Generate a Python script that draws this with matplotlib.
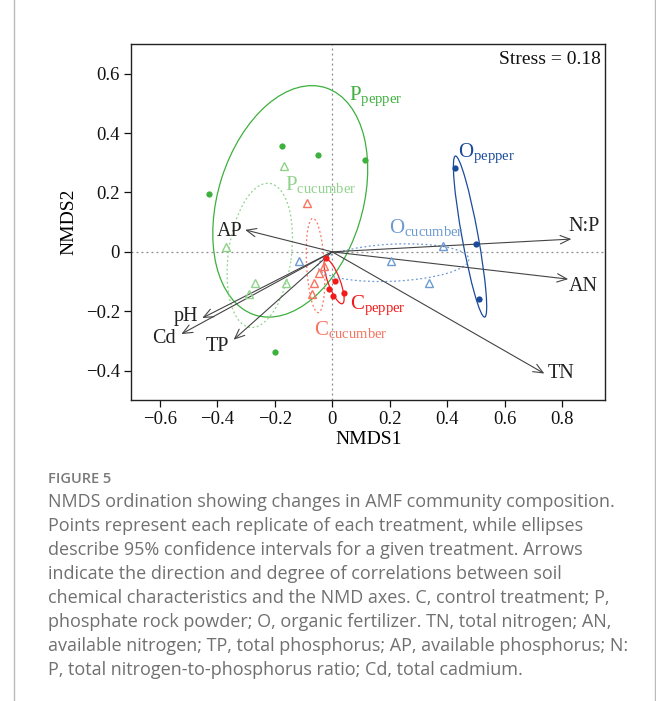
import numpy as np
import matplotlib
matplotlib.use("Agg")
from matplotlib import pyplot as plt
from matplotlib.patches import Ellipse

plt.rcParams['font.family'] = ['Liberation Serif', 'DejaVu Serif']
plt.rcParams['mathtext.fontset'] = 'custom'
plt.rcParams['mathtext.rm'] = 'Liberation Serif'
plt.rcParams['mathtext.it'] = 'Liberation Serif:italic'

# Sample scores
p_pepper_x = [-0.173, -0.051, -0.427, 0.113, -0.200]
p_pepper_y = [0.356, 0.325, 0.194, 0.308, -0.337]
p_cucumber_x = [-0.168, -0.371, -0.268, -0.288, -0.160]
p_cucumber_y = [0.288, 0.015, -0.104, -0.141, -0.104]
c_pepper_x = [-0.020, 0.011, -0.012, 0.004, 0.042]
c_pepper_y = [-0.021, -0.099, -0.124, -0.150, -0.137]
c_cucumber_x = [-0.086, -0.030, -0.046, -0.065, -0.072]
c_cucumber_y = [0.164, -0.048, -0.072, -0.105, -0.141]
o_pepper_x = [0.427, 0.500, 0.509]
o_pepper_y = [0.281, 0.027, -0.159]
o_cucumber_x = [-0.115, 0.385, 0.204, 0.335]
o_cucumber_y = [-0.032, 0.021, -0.032, -0.104]

# 95% ellipses: centre x, centre y, semi-major, semi-minor, angle (deg)
ell_p_pepper = (-0.146, 0.170, 0.402, 0.251, 71.8)
ell_p_cucumber = (-0.252, -0.012, 0.245, 0.1095, 81.8)
ell_c_pepper = (0.0065, -0.100, 0.080, 0.021, -68.8)
ell_c_cucumber = (-0.058, -0.046, 0.159, 0.031, -86.6)
ell_o_pepper = (0.4795, 0.0515, 0.276, 0.028, -79.35)
ell_o_cucumber = (0.2125, -0.0365, 0.263, 0.0625, 2.6)

# envfit vectors
env_names = ['N:P', 'AN', 'TN', 'AP', 'pH', 'Cd', 'TP']
env_x = [0.832, 0.821, 0.738, -0.303, -0.452, -0.525, -0.343]
env_y = [0.043, -0.092, -0.410, 0.074, -0.223, -0.277, -0.296]
env_label_x = [0.875, 0.874, 0.797, -0.357, -0.508, -0.587, -0.400]
env_label_y = [0.087, -0.117, -0.410, 0.068, -0.217, -0.292, -0.318]

x_ticks = [-0.6, -0.4, -0.2, 0, 0.2, 0.4, 0.6, 0.8]
x_tick_labels = ['\u22120.6', '\u22120.4', '\u22120.2', '0', '0.2', '0.4', '0.6', '0.8']
y_ticks = [-0.4, -0.2, 0, 0.2, 0.4, 0.6]
y_tick_labels = ['\u22120.4', '\u22120.2', '0', '0.2', '0.4', '0.6']

caption_lines = [
    "NMDS ordination showing changes in AMF community composition.",
    "Points represent each replicate of each treatment, while ellipses",
    "describe 95% confidence intervals for a given treatment. Arrows",
    "indicate the direction and degree of correlations between soil",
    "chemical characteristics and the NMD axes. C, control treatment; P,",
    "phosphate rock powder; O, organic fertilizer. TN, total nitrogen; AN,",
    "available nitrogen; TP, total phosphorus; AP, available phosphorus; N:",
    "P, total nitrogen-to-phosphorus ratio; Cd, total cadmium.",
]

green = '#3DB03D'
lightgreen = '#8FD38A'
red = '#F21B1B'
salmon = '#F7735F'
darkblue = '#1A4B9B'
lightblue = '#6C9BD2'

fig = plt.figure(figsize=(6.56, 7.01), dpi=100)
ax = fig.add_axes([0.1997, 0.4290, 0.7230, 0.5082])
ax.set_xlim(-0.7, 0.95)
ax.set_ylim(-0.5, 0.7)

# zero reference lines
ax.axhline(0, color='#888888', lw=0.9, ls=(0, (1.5, 2.5)), zorder=1)
ax.axvline(0, color='#888888', lw=0.9, ls=(0, (1.5, 2.5)), zorder=1)


def drawEllipse(params, color, dotted):
    cx, cy, a, b, ang = params
    ls = (0, (1.5, 2.0)) if dotted else '-'
    e = Ellipse((cx, cy), 2 * a, 2 * b, angle=ang, fill=False,
                edgecolor=color, lw=0.9, ls=ls, zorder=2)
    ax.add_patch(e)


drawEllipse(ell_p_pepper, green, False)
drawEllipse(ell_p_cucumber, lightgreen, True)
drawEllipse(ell_c_pepper, red, False)
drawEllipse(ell_c_cucumber, salmon, True)
drawEllipse(ell_o_pepper, darkblue, False)
drawEllipse(ell_o_cucumber, lightblue, True)

# arrows from the origin
for name, ex, ey, lx, ly in zip(env_names, env_x, env_y, env_label_x, env_label_y):
    ax.annotate('', xy=(ex, ey), xytext=(0, 0),
                arrowprops=dict(arrowstyle='->,head_length=0.7,head_width=0.3',
                                color='#444444', lw=0.8, shrinkA=0, shrinkB=0),
                zorder=3)
    ax.text(lx, ly, name, ha='center', va='center', fontsize=14.5, color='#222222', zorder=4)

# points
ax.plot(p_pepper_x, p_pepper_y, 'o', color=green, ms=4.5, mec='none', zorder=5)
ax.plot(c_pepper_x, c_pepper_y, 'o', color=red, ms=4.5, mec='none', zorder=5)
ax.plot(o_pepper_x, o_pepper_y, 'o', color=darkblue, ms=4.5, mec='none', zorder=5)
ax.plot(p_cucumber_x, p_cucumber_y, '^', mfc='none', mec=lightgreen, ms=6, mew=1.0, zorder=5)
ax.plot(c_cucumber_x, c_cucumber_y, '^', mfc='none', mec=salmon, ms=6, mew=1.0, zorder=5)
ax.plot(o_cucumber_x, o_cucumber_y, '^', mfc='none', mec=lightblue, ms=6, mew=1.0, zorder=5)

# group labels
ax.text(0.057, 0.513, r'$\mathrm{P_{pepper}}$', color=green, fontsize=15, va='baseline', ha='left')
ax.text(-0.166, 0.208, r'$\mathrm{P_{cucumber}}$', color=lightgreen, fontsize=15, va='baseline', ha='left')
ax.text(0.437, 0.318, r'$\mathrm{O_{pepper}}$', color=darkblue, fontsize=15, va='baseline', ha='left')
ax.text(0.199, 0.063, r'$\mathrm{O_{cucumber}}$', color=lightblue, fontsize=15, va='baseline', ha='left')
ax.text(0.063, -0.193, r'$\mathrm{C_{pepper}}$', color=red, fontsize=15, va='baseline', ha='left')
ax.text(-0.065, -0.279, r'$\mathrm{C_{cucumber}}$', color=salmon, fontsize=15, va='baseline', ha='left')

ax.text(0.935, 0.647, 'Stress = 0.18', ha='right', va='center', fontsize=14, color='#111111')

ax.set_xticks(x_ticks)
ax.set_xticklabels(x_tick_labels)
ax.set_yticks(y_ticks)
ax.set_yticklabels(y_tick_labels)
ax.tick_params(direction='out', length=5, width=0.9, labelsize=13.5, colors='#111111', pad=3)
for s in ax.spines.values():
    s.set_linewidth(1.0)
    s.set_color('#222222')
ax.set_xlabel('NMDS1', fontsize=14, labelpad=2)
ax.set_ylabel('NMDS2', fontsize=14, labelpad=6)

# caption
fig.text(47.5 / 656, 1 - 479 / 701, 'FIGURE 5', fontsize=10.5, color='#7a7a7a',
         family='Open Sans', weight='semibold', va='center', ha='left')
for i, line in enumerate(caption_lines):
    fig.text(47.5 / 656, 1 - (502 + 24 * i) / 701, line, fontsize=13.0, color='#707070',
             family='Open Sans', va='center', ha='left')

# page frame lines
fig.add_artist(plt.Line2D([13.5 / 656, 13.5 / 656], [0, 1], color='#bbbbbb', lw=1.0))
fig.add_artist(plt.Line2D([655 / 656, 655 / 656], [0, 1], color='#bbbbbb', lw=1.0))

fig.savefig('out.png', dpi=100)
